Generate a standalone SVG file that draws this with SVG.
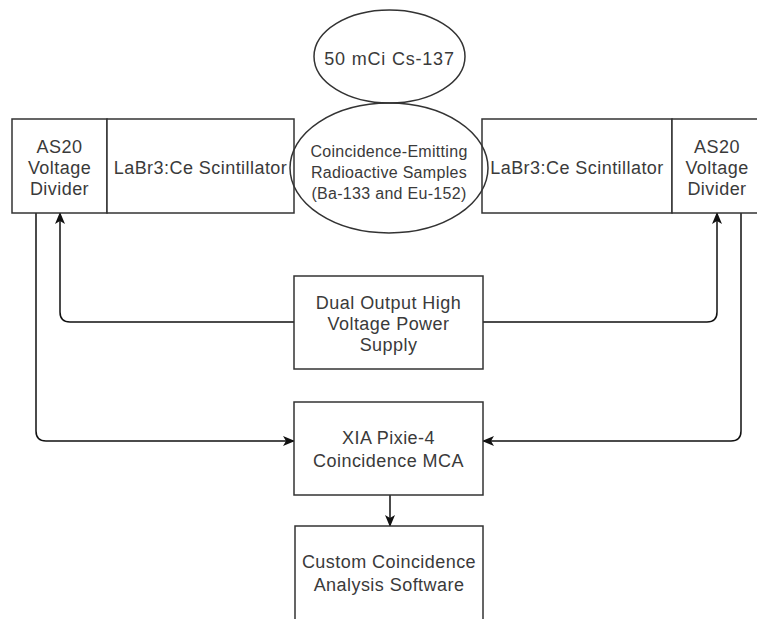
<svg xmlns="http://www.w3.org/2000/svg" width="757" height="619" viewBox="0 0 757 619">
<defs>
<marker id="arr" viewBox="0 0 12 10" refX="11" refY="5" markerWidth="12" markerHeight="10" markerUnits="userSpaceOnUse" orient="auto">
<path d="M0,0 L12,5 L0,10 L3,5 Z" fill="#111"/>
</marker>
</defs>
<style>
.box{fill:#fff;stroke:#333;stroke-width:1.5}
.ell{fill:none;stroke:#333;stroke-width:1.5}
.t{font-family:"Liberation Sans",Arial,sans-serif;font-size:18px;fill:#3a3a3a;text-anchor:middle;letter-spacing:0.45px}
.s{font-size:16px;letter-spacing:0.3px}
.c{fill:none;stroke:#111;stroke-width:1.5}
</style>
<rect width="757" height="619" fill="#fff"/>
<g id="connectors">
<path class="c" d="M36,213 V431 Q36,441 46,441 H294" marker-end="url(#arr)"/>
<path class="c" d="M294,322 H70 Q60,322 60,312 V213" marker-end="url(#arr)"/>
<path class="c" d="M483,322 H707 Q717,322 717,312 V213" marker-end="url(#arr)"/>
<path class="c" d="M741,213 V431 Q741,441 731,441 H483" marker-end="url(#arr)"/>
<path class="c" d="M390,495 V526" marker-end="url(#arr)"/>
</g>
<g id="left-divider">
<rect class="box" x="12" y="119" width="95" height="94"/>
<text class="t" x="59.5" y="153">AS20</text>
<text class="t" x="59.5" y="174">Voltage</text>
<text class="t" x="59.5" y="195">Divider</text>
</g>
<g id="left-scintillator">
<rect class="box" x="107" y="119" width="187" height="94"/>
<text class="t" x="200.5" y="174">LaBr3:Ce Scintillator</text>
</g>
<g id="right-scintillator">
<rect class="box" x="482" y="119" width="190" height="94"/>
<text class="t" x="577" y="174">LaBr3:Ce Scintillator</text>
</g>
<g id="right-divider">
<rect class="box" x="672" y="119" width="92" height="94"/>
<text class="t" x="717" y="153">AS20</text>
<text class="t" x="717" y="174">Voltage</text>
<text class="t" x="717" y="195">Divider</text>
</g>
<g id="cs137">
<ellipse class="ell" cx="389.5" cy="56.5" rx="75.5" ry="46.5"/>
<text class="t" x="389.5" y="65" style="letter-spacing:0.8px">50 mCi Cs-137</text>
</g>
<g id="samples">
<ellipse class="ell" cx="389" cy="168" rx="99" ry="65"/>
<text class="t s" x="389" y="157">Coincidence-Emitting</text>
<text class="t s" x="389" y="178">Radioactive Samples</text>
<text class="t s" x="389" y="199">(Ba-133 and Eu-152)</text>
</g>
<g id="power-supply">
<rect class="box" x="294" y="276" width="189" height="93"/>
<text class="t" x="388.5" y="309">Dual Output High</text>
<text class="t" x="388.5" y="330">Voltage Power</text>
<text class="t" x="388.5" y="351">Supply</text>
</g>
<g id="pixie">
<rect class="box" x="294" y="402" width="189" height="93"/>
<text class="t" x="388.5" y="444">XIA Pixie-4</text>
<text class="t" x="388.5" y="467">Coincidence MCA</text>
</g>
<g id="software">
<rect class="box" x="295" y="526" width="188" height="110"/>
<text class="t" x="389" y="568">Custom Coincidence</text>
<text class="t" x="389" y="591">Analysis Software</text>
</g>
</svg>
